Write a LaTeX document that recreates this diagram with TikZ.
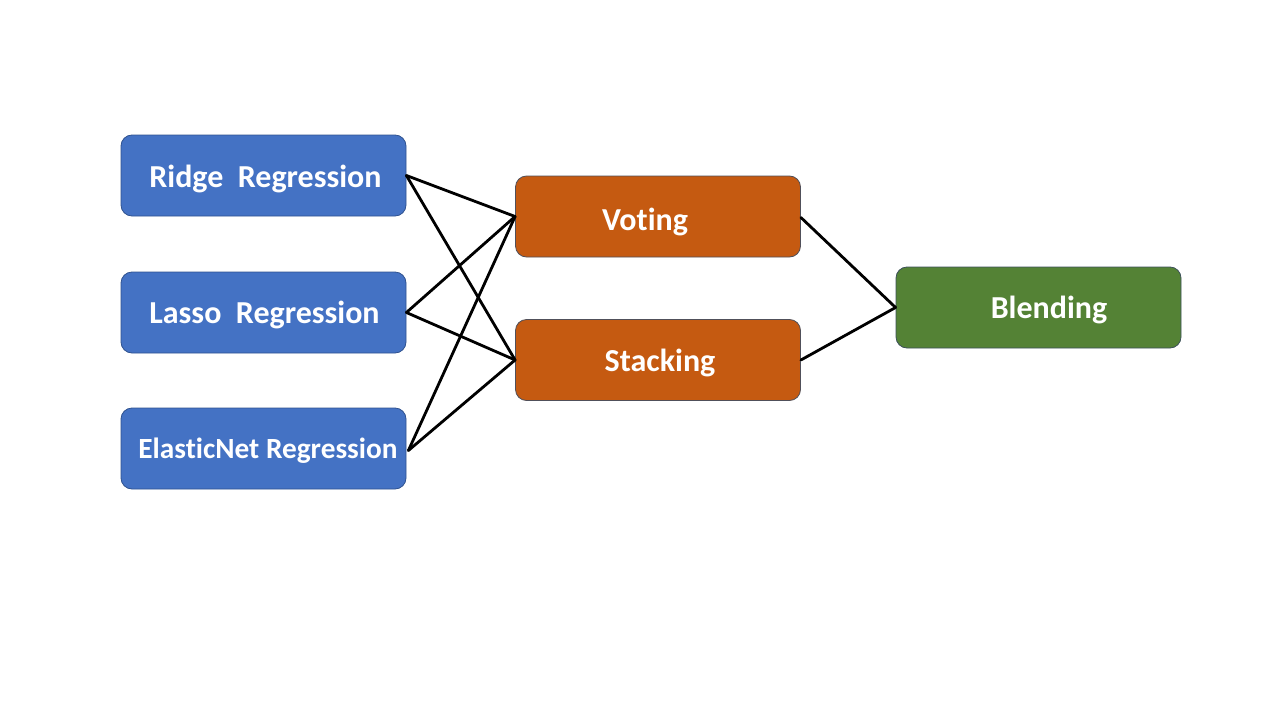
\documentclass[tikz,border=0pt]{standalone}
\usepackage{fontspec}
\setmainfont[Ligatures=NoCommon]{Carlito}
\begin{document}
\begin{tikzpicture}[x=1pt,y=-1pt,
  box/.style={rounded corners=11pt, minimum width=285pt, minimum height=81pt, inner sep=0pt, line width=0.8pt},
  bluebox/.style={box, fill={rgb,255:red,68;green,114;blue,196}, draw={rgb,255:red,47;green,82;blue,143}},
  orangebox/.style={box, fill={rgb,255:red,197;green,90;blue,17}, draw={rgb,255:red,80;green,80;blue,90}},
  greenbox/.style={box, fill={rgb,255:red,84;green,130;blue,53}, draw={rgb,255:red,60;green,80;blue,90}},
  lbl/.style={text=white, font=\fontsize{32}{38}\selectfont\bfseries, inner sep=0pt, anchor=center},
  link/.style={draw=black, line width=2.8pt, line cap=round}
]
\useasboundingbox (0,0) rectangle (1280,720);
\node[bluebox] (ridge) at (263.5,175.5) {};
\node[bluebox] (lasso) at (263.5,312.5) {};
\node[bluebox] (elastic) at (263.5,448.5) {};
\node[orangebox] (voting) at (658,216.5) {};
\node[orangebox] (stacking) at (658,360) {};
\node[greenbox] (blending) at (1038.5,307.5) {};
\node[lbl] (tridge) at (265.5,179) {Ridge\ \ Regression};
\node[lbl] (tlasso) at (264.5,315) {Lasso\ \ Regression};
\node[lbl, font=\fontsize{29.3}{35}\selectfont\bfseries] (telastic) at (268,450.5) {ElasticNet Regression};
\node[lbl] (tvoting) at (645,222) {Voting};
\node[lbl] (tstacking) at (660,363) {Stacking};
\node[lbl] (tblending) at (1049,310) {Blending};
\coordinate (re) at (ridge.east);
\coordinate (le) at (lasso.east);
\coordinate (ee) at ([shift={(2pt,-2pt)}]elastic.east);
\coordinate (vw) at (voting.west);
\coordinate (sw) at (stacking.west);
\coordinate (ve) at ([yshift=-1pt]voting.east);
\coordinate (se) at (stacking.east);
\coordinate (bw) at (blending.west);
\draw[link] (re) -- (vw);
\draw[link] (re) -- (sw);
\draw[link] (le) -- (vw);
\draw[link] (le) -- (sw);
\draw[link] (ee) -- (vw);
\draw[link] (ee) -- (sw);
\draw[link] (ve) -- (bw);
\draw[link] (se) -- (bw);
\end{tikzpicture}
\end{document}
